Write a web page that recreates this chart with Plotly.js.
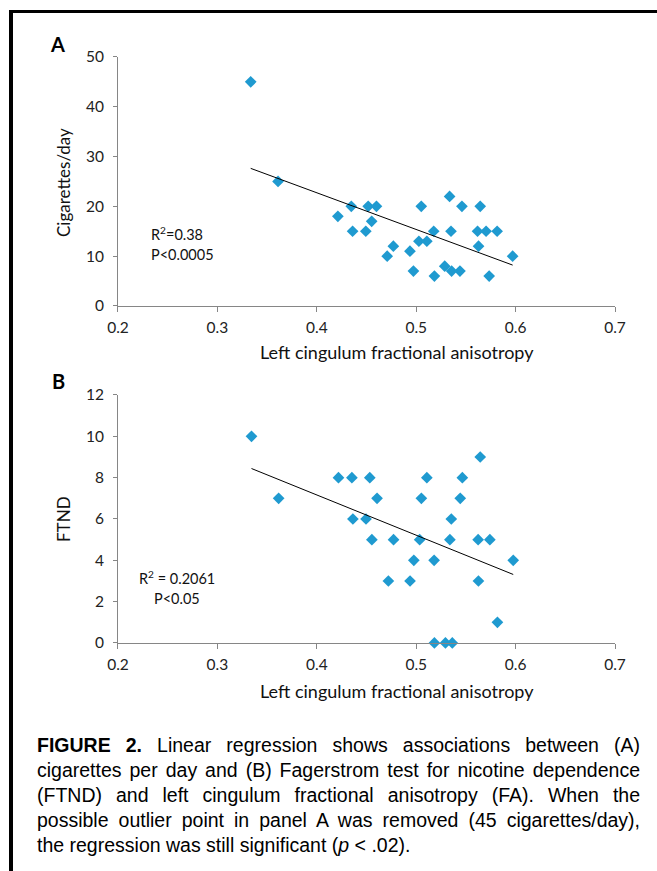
<!DOCTYPE html>
<html>
<head>
<meta charset="utf-8">
<script src="https://cdn.plot.ly/plotly-3.0.1.min.js"></script>
<style>
  html, body { margin: 0; padding: 0; background: #fff; }
  #wrap { position: relative; width: 657px; height: 871px; overflow: hidden; }
  #chart { position: absolute; left: 0; top: 0; width: 657px; height: 871px; }
  .bar { position: absolute; background: #000; }
  #caption { position: absolute; left: 37px; top: 733px; width: 603px;
             font-family: "Liberation Sans", Arial, sans-serif; font-size: 19.5px; color: #000; }
  #caption .ln { height: 25px; line-height: 25px; white-space: nowrap; text-align: justify; text-align-last: justify; }
  #caption .ln.last { text-align-last: left; }
</style>
</head>
<body>
<div id="wrap">
  <div id="chart"></div>
  <div class="bar" style="left:9px; top:10px; width:648px; height:3px;"></div>
  <div class="bar" style="left:9px; top:10px; width:4px; height:861px;"></div>
  <div id="caption">
    <div class="ln"><b>FIGURE 2.</b> Linear regression shows associations between (A)</div>
    <div class="ln">cigarettes per day and (B) Fagerstrom test for nicotine dependence</div>
    <div class="ln">(FTND) and left cingulum fractional anisotropy (FA). When the</div>
    <div class="ln">possible outlier point in panel A was removed (45 cigarettes/day),</div>
    <div class="ln last">the regression was still significant (<i>p</i> &lt; .02).</div>
  </div>
</div>
<script>
// Panel A data: left cingulum FA vs cigarettes/day
var faA = [0.3335,0.361,0.4212,0.4347,0.436,0.4493,0.4517,0.4552,0.46,0.4708,0.477,0.4937,0.4972,0.5027,0.5051,0.5107,0.5176,0.5183,0.5287,0.5336,0.535,0.5356,0.544,0.546,0.5617,0.5627,0.5644,0.5703,0.5734,0.5814,0.597];
var cigarettes = [45,25,18,20,15,15,20,17,20,10,12,11,7,13,20,13,15,6,8,22,15,7,7,20,15,12,20,15,6,15,10];
// Panel B data: left cingulum FA vs FTND
var faB = [0.3343,0.3616,0.4218,0.4353,0.4363,0.4495,0.4533,0.4554,0.4606,0.472,0.4772,0.4938,0.4976,0.5035,0.5052,0.5107,0.518,0.5183,0.5294,0.5339,0.5353,0.5363,0.5443,0.5464,0.5623,0.5626,0.5644,0.5741,0.5817,0.5976];
var ftnd = [10,7,8,8,6,6,8,5,7,3,5,3,4,5,7,8,4,0,0,5,6,0,7,8,5,3,9,5,1,4];
var xTicks = [0.2,0.3,0.4,0.5,0.6,0.7];
var xTickLabels = ["0.2","0.3","0.4","0.5","0.6","0.7"];

function fit(xs, ys) {
  var n = xs.length, mx = 0, my = 0;
  for (var i = 0; i < n; i++) { mx += xs[i]; my += ys[i]; }
  mx /= n; my /= n;
  var sxy = 0, sxx = 0;
  for (var j = 0; j < n; j++) { sxy += (xs[j]-mx)*(ys[j]-my); sxx += (xs[j]-mx)*(xs[j]-mx); }
  var b = sxy / sxx, a = my - b*mx;
  var x0 = Math.min.apply(null, xs), x1 = Math.max.apply(null, xs);
  return {x: [x0, x1], y: [a + b*x0, a + b*x1]};
}
var tA = fit(faA, cigarettes), tB = fit(faB, ftnd);

var blue = '#1f9ad0';
var mk = {symbol: 'diamond', size: 9, color: blue};
var data = [
  {x: faA, y: cigarettes, type: 'scatter', mode: 'markers', marker: mk, xaxis: 'x', yaxis: 'y', cliponaxis: false, hoverinfo: 'x+y'},
  {x: tA.x, y: tA.y, type: 'scatter', mode: 'lines', line: {color: '#000', width: 1}, xaxis: 'x', yaxis: 'y', hoverinfo: 'skip'},
  {x: faB, y: ftnd, type: 'scatter', mode: 'markers', marker: mk, xaxis: 'x2', yaxis: 'y2', cliponaxis: false, hoverinfo: 'x+y'},
  {x: tB.x, y: tB.y, type: 'scatter', mode: 'lines', line: {color: '#000', width: 1}, xaxis: 'x2', yaxis: 'y2', hoverinfo: 'skip'}
];

var F = 'Lato, "Open Sans", sans-serif';
var tickFont = {family: F, size: 15.5, color: '#222'};
function xax(anchor) {
  return {domain: [0.1796, 0.9361], range: [0.2, 0.7], anchor: anchor, tickmode: 'array',
    tickvals: xTicks, ticktext: xTickLabels, showline: true, linecolor: '#868686', linewidth: 1,
    ticks: 'outside', ticklen: 5, tickcolor: '#868686', showgrid: false, zeroline: false,
    tickfont: tickFont, fixedrange: true, ticklabelstandoff: 2};
}
function yax(anchor, dom, max, dt) {
  return {domain: dom, range: [0, max], anchor: anchor, dtick: dt, tick0: 0,
    showline: true, linecolor: '#868686', linewidth: 1, ticks: 'outside', ticklen: 4,
    tickcolor: '#868686', showgrid: false, zeroline: false, tickfont: tickFont, fixedrange: true,
    ticklabelstandoff: 6};
}
function px(xp) { return xp / 657; }
function py(yp) { return 1 - yp / 871; }
function ann(text, x, y, opts) {
  var a = {text: text, x: px(x), y: py(y), xref: 'paper', yref: 'paper', showarrow: false,
    xanchor: 'center', yanchor: 'middle', font: {family: F, size: 17, color: '#111'}};
  for (var k in opts) a[k] = opts[k];
  return a;
}
var small = {family: F, size: 14.5, color: '#111'};
var layout = {
  width: 657, height: 871, margin: {l: 0, r: 0, t: 0, b: 0},
  paper_bgcolor: '#fff', plot_bgcolor: '#fff', showlegend: false,
  xaxis: xax('y'), yaxis: yax('x', [0.6487, 0.9346], 50, 10),
  xaxis2: xax('y2'), yaxis2: yax('x2', [0.2618, 0.5465], 12, 2),
  annotations: [
    ann('<b>A</b>', 57, 44, {font: {family: F, size: 20, color: '#000'}}),
    ann('<b>B</b>', 58, 381, {font: {family: F, size: 20, color: '#000'}}),
    ann('Cigarettes/day', 63, 183, {textangle: -90}),
    ann('FTND', 63, 519, {textangle: -90}),
    ann('Left cingulum fractional anisotropy', 397, 352, {font: {family: F, size: 18, color: '#111'}}),
    ann('Left cingulum fractional anisotropy', 397, 691, {font: {family: F, size: 18, color: '#111'}}),
    ann('R<sup>2</sup>=0.38', 149, 233, {xanchor: 'left', font: small}),
    ann('P<0.0005', 149, 254, {xanchor: 'left', font: small}),
    ann('R<sup>2</sup> = 0.2061', 177, 577, {font: small}),
    ann('P<0.05', 177, 598, {font: small})
  ]
};
Plotly.newPlot('chart', data, layout, {displayModeBar: false});
</script>
</body>
</html>
